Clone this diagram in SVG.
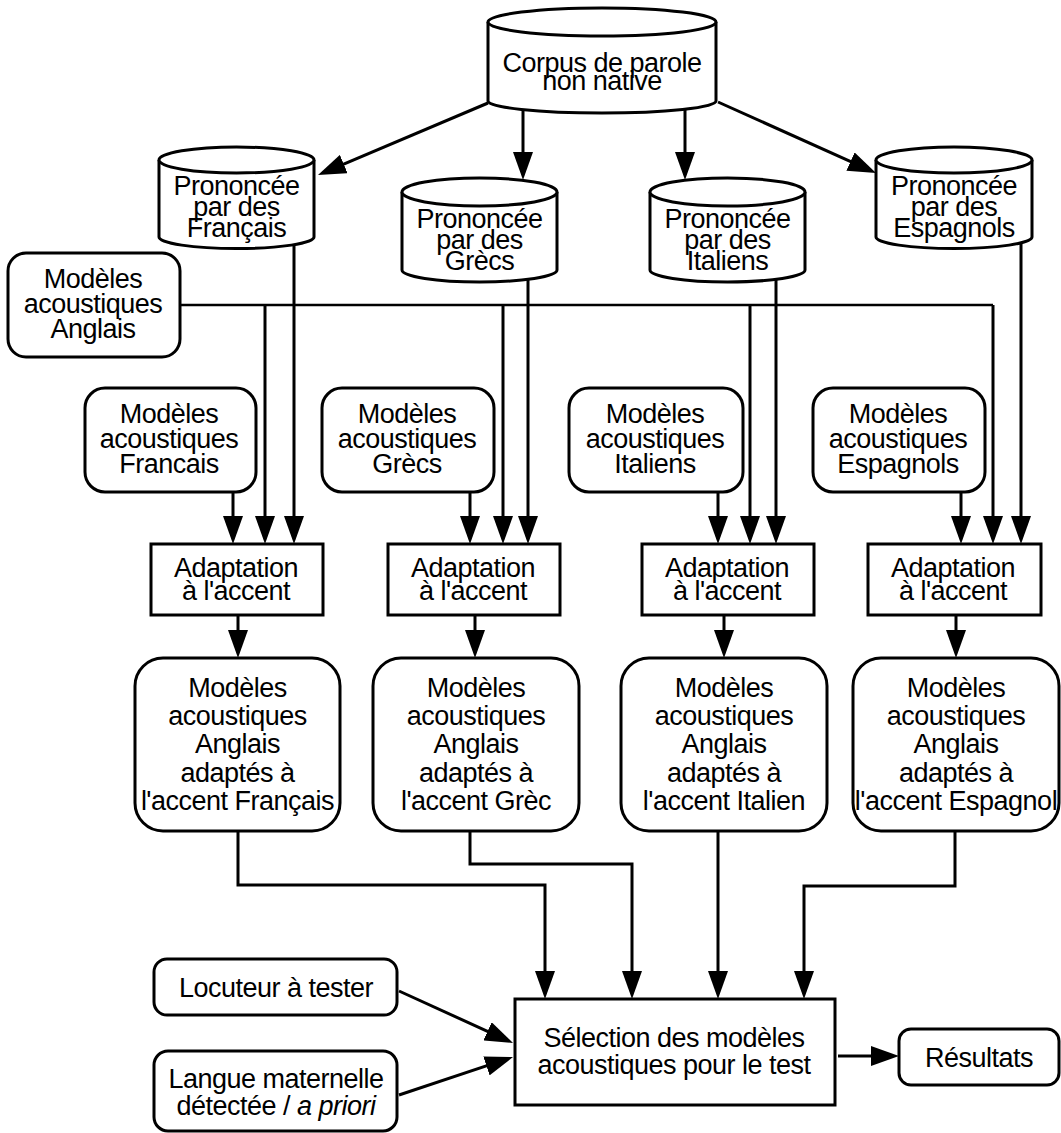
<svg xmlns="http://www.w3.org/2000/svg" width="1061" height="1133" viewBox="0 0 1061 1133">
<defs>
<style>
text{font-family:"Liberation Sans",Arial,sans-serif;font-size:27px;letter-spacing:-0.5px;fill:#000;text-anchor:middle}
.b{fill:#fff;stroke:#000;stroke-width:3}
.c{fill:none;stroke:#000;stroke-width:3}
.bus{fill:none;stroke:#000;stroke-width:2.5}
</style>
<marker id="ah" markerUnits="userSpaceOnUse" markerWidth="28" markerHeight="20" refX="18" refY="10" orient="auto" viewBox="0 0 28 20"><path d="M0,0 L28,10 L0,20 z" fill="#000"/></marker>
</defs>
<rect width="1061" height="1133" fill="#fff"/>

<g id="connectors">
<line class="c" x1="488" y1="103" x2="327.2" y2="171.1" marker-end="url(#ah)"/>
<line class="c" x1="523" y1="110" x2="523" y2="170" marker-end="url(#ah)"/>
<line class="c" x1="685" y1="110" x2="685" y2="170" marker-end="url(#ah)"/>
<line class="c" x1="718" y1="102" x2="866.9" y2="168.9" marker-end="url(#ah)"/>
<path class="bus" d="M180,305 H993"/>
<line class="c" x1="993" y1="305" x2="993" y2="534" marker-end="url(#ah)"/>
<line class="c" x1="265" y1="305" x2="265" y2="534" marker-end="url(#ah)"/>
<line class="c" x1="503" y1="305" x2="503" y2="534" marker-end="url(#ah)"/>
<line class="c" x1="750" y1="305" x2="750" y2="534" marker-end="url(#ah)"/>
<line class="c" x1="294" y1="244" x2="294" y2="534" marker-end="url(#ah)"/>
<line class="c" x1="528" y1="280" x2="528" y2="534" marker-end="url(#ah)"/>
<line class="c" x1="776" y1="280" x2="776" y2="534" marker-end="url(#ah)"/>
<line class="c" x1="1021" y1="242" x2="1021" y2="534" marker-end="url(#ah)"/>
<line class="c" x1="233" y1="493" x2="233" y2="534" marker-end="url(#ah)"/>
<line class="c" x1="470" y1="493" x2="470" y2="534" marker-end="url(#ah)"/>
<line class="c" x1="718" y1="493" x2="718" y2="534" marker-end="url(#ah)"/>
<line class="c" x1="961" y1="493" x2="961" y2="534" marker-end="url(#ah)"/>
<line class="c" x1="238" y1="615" x2="238" y2="648" marker-end="url(#ah)"/>
<line class="c" x1="475" y1="615" x2="475" y2="648" marker-end="url(#ah)"/>
<line class="c" x1="724" y1="615" x2="724" y2="648" marker-end="url(#ah)"/>
<line class="c" x1="956" y1="615" x2="956" y2="648" marker-end="url(#ah)"/>
<path class="c" d="M238,831 V885 H545 V989" marker-end="url(#ah)"/>
<path class="c" d="M470,831 V864 H632 V989" marker-end="url(#ah)"/>
<path class="c" d="M718,831 V989" marker-end="url(#ah)"/>
<path class="c" d="M955,831 V886 H804 V989" marker-end="url(#ah)"/>
<line class="c" x1="399" y1="991" x2="503.9" y2="1038.8" marker-end="url(#ah)"/>
<line class="c" x1="399" y1="1095" x2="503.5" y2="1060.2" marker-end="url(#ah)"/>
<line class="c" x1="838" y1="1056" x2="889" y2="1056" marker-end="url(#ah)"/>
</g>

<g id="corpus">
<path class="b" d="M488,22 V101 A114,12 0 0 0 716,101 V22"/>
<ellipse class="b" cx="602" cy="22" rx="114" ry="14"/>
<text x="602" y="72">Corpus de parole</text>
<text x="602" y="90">non native</text>
</g>

<g id="pron-fr">
<path class="b" d="M159,160 V237 A77.5,11.5 0 0 0 314,237 V160"/>
<ellipse class="b" cx="236.5" cy="160" rx="77.5" ry="13"/>
<text x="236.5" y="195">Prononcée</text>
<text x="236.5" y="216">par des</text>
<text x="236.5" y="237">Français</text>
</g>

<g id="pron-gr">
<path class="b" d="M402,192 V270 A77.5,12 0 0 0 557,270 V192"/>
<ellipse class="b" cx="479.5" cy="192" rx="77.5" ry="14"/>
<text x="479.5" y="228">Prononcée</text>
<text x="479.5" y="249">par des</text>
<text x="479.5" y="270">Grècs</text>
</g>

<g id="pron-it">
<path class="b" d="M650,192 V270 A77.5,12 0 0 0 805,270 V192"/>
<ellipse class="b" cx="727.5" cy="192" rx="77.5" ry="14"/>
<text x="727.5" y="228">Prononcée</text>
<text x="727.5" y="249">par des</text>
<text x="727.5" y="270">Italiens</text>
</g>

<g id="pron-es">
<path class="b" d="M876,160 V237 A78,11.5 0 0 0 1032,237 V160"/>
<ellipse class="b" cx="954" cy="160" rx="78" ry="13"/>
<text x="954" y="195">Prononcée</text>
<text x="954" y="216">par des</text>
<text x="954" y="237">Espagnols</text>
</g>

<g id="modeles-anglais">
<rect class="b" x="8" y="253" width="172" height="104" rx="18"/>
<text x="93" y="288">Modèles</text>
<text x="93" y="313">acoustiques</text>
<text x="93" y="338">Anglais</text>
</g>

<g id="modeles-fr">
<rect class="b" x="85" y="388" width="171" height="104" rx="20"/>
<text x="169" y="423">Modèles</text>
<text x="169" y="448">acoustiques</text>
<text x="169" y="473">Francais</text>
</g>
<g id="modeles-gr">
<rect class="b" x="322" y="388" width="172" height="104" rx="20"/>
<text x="407" y="423">Modèles</text>
<text x="407" y="448">acoustiques</text>
<text x="407" y="473">Grècs</text>
</g>
<g id="modeles-it">
<rect class="b" x="569" y="388" width="174" height="104" rx="20"/>
<text x="655" y="423">Modèles</text>
<text x="655" y="448">acoustiques</text>
<text x="655" y="473">Italiens</text>
</g>
<g id="modeles-es">
<rect class="b" x="813" y="388" width="172" height="104" rx="20"/>
<text x="898" y="423">Modèles</text>
<text x="898" y="448">acoustiques</text>
<text x="898" y="473">Espagnols</text>
</g>

<g id="adapt-fr">
<rect class="b" x="151" y="544" width="172" height="71"/>
<text x="236" y="577">Adaptation</text>
<text x="236" y="600">à l'accent</text>
</g>
<g id="adapt-gr">
<rect class="b" x="388" y="544" width="172" height="71"/>
<text x="473" y="577">Adaptation</text>
<text x="473" y="600">à l'accent</text>
</g>
<g id="adapt-it">
<rect class="b" x="642" y="544" width="172" height="71"/>
<text x="727" y="577">Adaptation</text>
<text x="727" y="600">à l'accent</text>
</g>
<g id="adapt-es">
<rect class="b" x="868" y="544" width="173" height="71"/>
<text x="953" y="577">Adaptation</text>
<text x="953" y="600">à l'accent</text>
</g>

<g id="adaptes-fr">
<rect class="b" x="135" y="658" width="205" height="173" rx="28"/>
<text x="237.5" y="697">Modèles</text>
<text x="237.5" y="725">acoustiques</text>
<text x="237.5" y="753">Anglais</text>
<text x="237.5" y="782">adaptés à</text>
<text x="237.5" y="810">l'accent Français</text>
</g>
<g id="adaptes-gr">
<rect class="b" x="373" y="658" width="206" height="173" rx="28"/>
<text x="476" y="697">Modèles</text>
<text x="476" y="725">acoustiques</text>
<text x="476" y="753">Anglais</text>
<text x="476" y="782">adaptés à</text>
<text x="476" y="810">l'accent Grèc</text>
</g>
<g id="adaptes-it">
<rect class="b" x="621" y="658" width="206" height="173" rx="28"/>
<text x="724" y="697">Modèles</text>
<text x="724" y="725">acoustiques</text>
<text x="724" y="753">Anglais</text>
<text x="724" y="782">adaptés à</text>
<text x="724" y="810">l'accent Italien</text>
</g>
<g id="adaptes-es">
<rect class="b" x="853" y="658" width="206" height="173" rx="28"/>
<text x="956" y="697">Modèles</text>
<text x="956" y="725">acoustiques</text>
<text x="956" y="753">Anglais</text>
<text x="956" y="782">adaptés à</text>
<text x="956" y="810">l'accent Espagnol</text>
</g>

<g id="locuteur">
<rect class="b" x="154" y="959" width="243" height="56" rx="13"/>
<text x="276" y="997">Locuteur à tester</text>
</g>
<g id="langue">
<rect class="b" x="154" y="1051" width="243" height="80" rx="14"/>
<text x="276" y="1088">Langue maternelle</text>
<text x="276" y="1115">détectée / <tspan font-style="italic">a priori</tspan></text>
</g>
<g id="selection">
<rect class="b" x="515" y="999" width="320" height="106"/>
<text x="674" y="1047">Sélection des modèles</text>
<text x="674" y="1074">acoustiques pour le test</text>
</g>
<g id="resultats">
<rect class="b" x="899" y="1029" width="160" height="56" rx="12"/>
<text x="979" y="1067">Résultats</text>
</g>
</svg>
